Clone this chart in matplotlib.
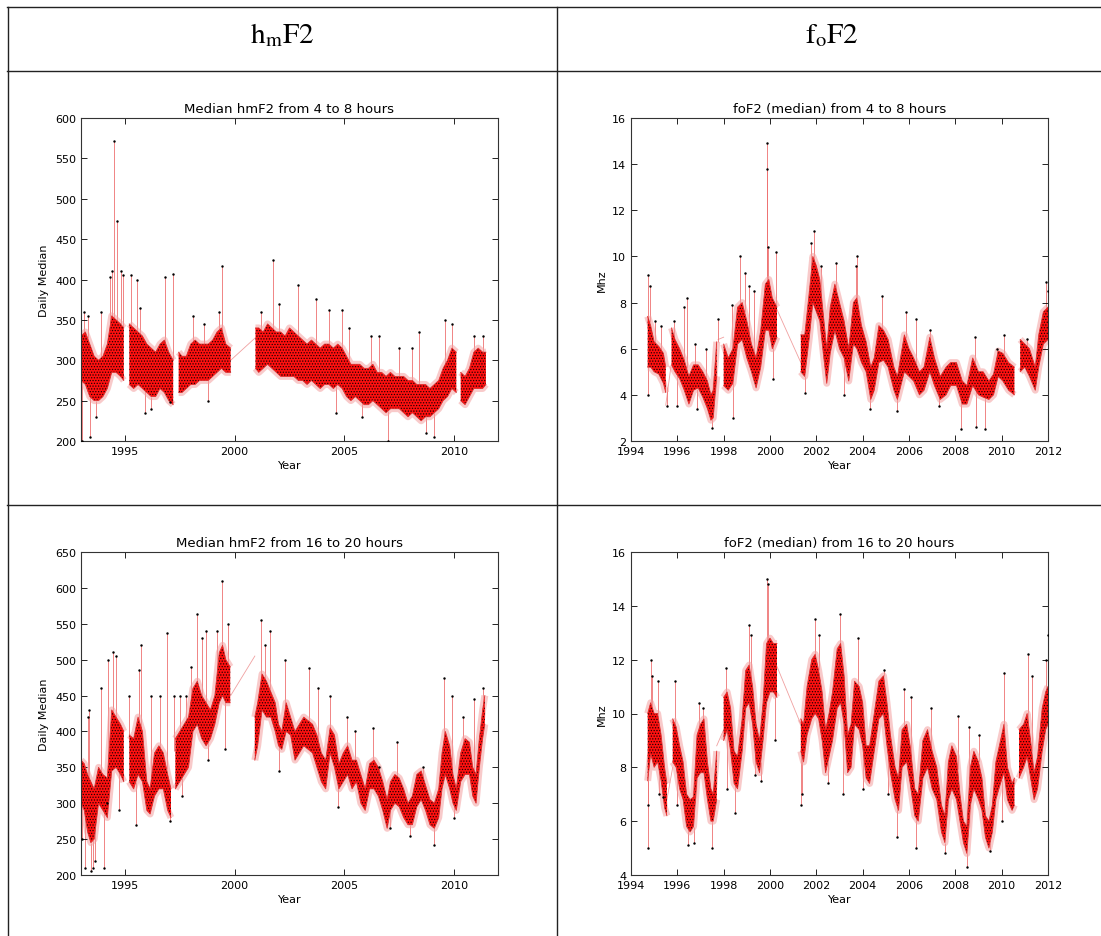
import numpy as np
import matplotlib.pyplot as plt
from matplotlib.lines import Line2D

plt.rcParams['mathtext.fontset'] = 'stix'
plt.rcParams['hatch.linewidth'] = 0.6
nan = np.nan

# ---- hmF2 4-8 h (core band of daily medians, km) ----
hm_am_t = [1993.0, 1993.2, 1993.4, 1993.6, 1993.8, 1994.0, 1994.2, 1994.4, 1994.6, 1994.8, 1994.95, 1995.08,
           1995.2, 1995.4, 1995.6, 1995.8, 1996.0, 1996.2, 1996.4, 1996.6, 1996.8, 1997.0, 1997.2, 1997.38,
           1997.45, 1997.6, 1997.8, 1998.0, 1998.2, 1998.4, 1998.6, 1998.8, 1999.0, 1999.2, 1999.4, 1999.6,
           1999.82, 2000.4, 2000.95, 2001.1, 2001.3, 2001.5, 2001.7, 2001.9, 2002.1, 2002.3, 2002.5, 2002.7,
           2002.9, 2003.1, 2003.3, 2003.5, 2003.7, 2003.9, 2004.1, 2004.3, 2004.5, 2004.7, 2004.9, 2005.1,
           2005.3, 2005.5, 2005.7, 2005.9, 2006.1, 2006.3, 2006.5, 2006.7, 2006.9, 2007.1, 2007.3, 2007.5,
           2007.7, 2007.9, 2008.1, 2008.3, 2008.5, 2008.7, 2008.9, 2009.1, 2009.3, 2009.5, 2009.7, 2009.9,
           2010.1, 2010.22, 2010.3, 2010.5, 2010.7, 2010.9, 2011.1, 2011.3, 2011.45]
hm_am_lo = [275, 270, 255, 250, 250, 255, 265, 285, 285, 280, 275, nan,
            270, 265, 270, 265, 260, 255, 255, 265, 260, 250, 245, nan,
            260, 260, 265, 270, 270, 275, 275, 275, 280, 285, 290, 285,
            285, nan, 290, 285, 290, 295, 290, 285, 280, 280, 280, 280,
            275, 275, 270, 275, 270, 265, 270, 270, 265, 270, 265, 255,
            250, 255, 250, 245, 245, 250, 245, 240, 235, 240, 240, 240,
            235, 230, 235, 230, 225, 230, 230, 235, 240, 250, 255, 265,
            260, nan, 250, 245, 255, 265, 265, 265, 270]
hm_am_hi = [330, 335, 320, 305, 300, 305, 320, 355, 350, 345, 340, nan,
            345, 340, 335, 330, 320, 315, 310, 320, 325, 310, 300, nan,
            310, 305, 305, 320, 325, 320, 320, 320, 325, 335, 340, 320,
            315, nan, 340, 340, 335, 345, 340, 335, 335, 330, 340, 335,
            330, 325, 320, 325, 320, 315, 320, 320, 315, 320, 315, 305,
            295, 295, 295, 290, 290, 295, 285, 285, 280, 285, 280, 280,
            280, 275, 275, 270, 270, 270, 265, 270, 275, 290, 300, 315,
            310, nan, 285, 280, 290, 310, 315, 310, 310]
hm_am_spike_t = [1993.05, 1993.15, 1993.3, 1993.4, 1993.7, 1993.9, 1994.3, 1994.4, 1994.51, 1994.66, 1994.8,
                 1994.9, 1995.3, 1995.55, 1995.7, 1995.9, 1996.2, 1996.85, 1997.05, 1997.2, 1998.1, 1998.6,
                 1998.8, 1999.3, 1999.42, 2001.2, 2001.75, 2002.0, 2002.9, 2003.7, 2004.3, 2004.6, 2004.9,
                 2005.2, 2005.8, 2006.2, 2006.6, 2007.0, 2007.5, 2008.1, 2008.4, 2008.7, 2009.1, 2009.6,
                 2009.9, 2010.9, 2011.3]
hm_am_spike_v = [200, 360, 355, 205, 230, 360, 403, 410, 571, 473, 410,
                 405, 405, 400, 365, 235, 240, 403, 248, 407, 355, 345,
                 250, 360, 417, 360, 424, 370, 393, 376, 362, 235, 362,
                 340, 230, 330, 330, 200, 315, 315, 335, 210, 205, 350,
                 345, 330, 330]
hm_am_bridge = [[1999.82, 2000.95], [300, 328]]

# ---- foF2 4-8 h (MHz) ----
fo_am_t = [1994.72, 1994.85, 1995.0, 1995.2, 1995.4, 1995.5, 1995.62, 1995.75, 1995.9, 1996.1, 1996.3, 1996.5,
           1996.7, 1996.9, 1997.1, 1997.3, 1997.45, 1997.55, 1997.7, 1997.85, 1998.0, 1998.2, 1998.4, 1998.6,
           1998.8, 1999.0, 1999.2, 1999.4, 1999.6, 1999.8, 1999.95, 2000.1, 2000.3, 2000.8, 2001.33, 2001.5,
           2001.7, 2001.85, 2002.0, 2002.15, 2002.3, 2002.45, 2002.6, 2002.8, 2003.0, 2003.2, 2003.4, 2003.6,
           2003.75, 2003.95, 2004.15, 2004.35, 2004.5, 2004.7, 2004.9, 2005.1, 2005.35, 2005.5, 2005.8, 2006.0,
           2006.2, 2006.45, 2006.65, 2006.9, 2007.1, 2007.35, 2007.6, 2007.8, 2008.05, 2008.3, 2008.5, 2008.75,
           2009.0, 2009.2, 2009.45, 2009.65, 2009.85, 2010.05, 2010.3, 2010.55, 2010.68, 2010.8, 2011.0, 2011.2,
           2011.45, 2011.6, 2011.8, 2012.0]
fo_am_lo = [5.2, 5.2, 5.0, 4.9, 4.5, 4.1, nan, 5.3, 5.0, 4.7, 4.2, 3.6,
            4.2, 4.3, 3.9, 3.4, 2.9, 3.0, 4.8, nan, 4.4, 4.2, 4.5, 6.2,
            6.4, 5.6, 5.0, 4.3, 5.2, 6.8, 6.8, 6.0, 6.5, nan, 5.0, 4.8,
            6.5, 8.0, 7.6, 7.2, 5.8, 4.5, 5.8, 6.8, 6.0, 5.6, 4.6, 6.2,
            6.0, 5.4, 5.0, 3.8, 4.2, 5.4, 5.5, 5.2, 4.2, 3.8, 5.0, 4.8,
            4.6, 4.0, 4.2, 5.0, 4.4, 3.8, 4.0, 4.4, 4.4, 3.6, 3.6, 4.4,
            4.0, 3.9, 3.8, 4.0, 4.8, 4.6, 4.2, 4.0, nan, 5.0, 5.2, 4.8,
            4.2, 5.2, 6.2, 6.4]
fo_am_hi = [7.4, 7.0, 6.3, 6.1, 5.8, 5.2, nan, 6.9, 6.4, 6.0, 5.5, 4.8,
            5.3, 5.3, 5.0, 4.6, 4.0, 4.2, 6.3, nan, 6.2, 5.6, 6.0, 7.8,
            8.0, 7.2, 6.2, 5.6, 6.8, 8.8, 9.0, 8.2, 7.8, nan, 6.6, 6.6,
            8.5, 10.0, 9.6, 9.0, 7.5, 6.0, 7.8, 8.8, 8.0, 7.2, 6.0, 8.0,
            8.2, 7.0, 6.3, 5.2, 5.6, 7.0, 6.8, 6.4, 5.2, 4.8, 6.6, 6.0,
            5.6, 5.0, 5.2, 6.5, 5.6, 4.8, 5.2, 5.4, 5.4, 4.6, 4.4, 5.6,
            5.0, 5.0, 4.6, 4.9, 5.9, 5.8, 5.4, 5.2, nan, 6.4, 6.2, 6.0,
            5.2, 6.6, 7.6, 7.8]
fo_am_spike_t = [1994.72, 1994.75, 1994.8, 1995.05, 1995.3, 1995.55, 1995.85, 1996.0, 1996.3, 1996.4, 1996.75,
                 1996.85, 1997.25, 1997.5, 1997.75, 1998.35, 1998.4, 1998.7, 1998.9, 1999.1, 1999.3, 1999.87,
                 1999.89, 1999.9, 2000.15, 2000.25, 2001.5, 2001.75, 2001.9, 2002.2, 2002.85, 2003.2, 2003.7,
                 2003.75, 2004.3, 2004.85, 2005.5, 2005.85, 2006.3, 2006.9, 2007.3, 2008.25, 2008.85, 2008.9,
                 2009.3, 2009.8, 2010.1, 2011.1, 2011.9, 2012.0]
fo_am_spike_v = [4.0, 9.2, 8.7, 7.2, 7.0, 3.5, 7.2, 3.5, 7.8, 8.2, 6.2,
                 3.4, 6.0, 2.55, 7.3, 7.9, 3.0, 10.0, 9.3, 8.7, 8.5, 14.9,
                 13.8, 10.4, 4.7, 10.2, 4.1, 10.6, 11.1, 9.6, 9.7, 4.0, 9.6,
                 10.0, 3.4, 8.3, 3.3, 7.6, 7.3, 6.8, 3.5, 2.5, 6.5, 2.6,
                 2.5, 6.0, 6.6, 6.4, 8.9, 8.5]
fo_am_bridge = [[1995.5, 1995.72, nan, 1997.76, 1998.0, nan, 2000.3, 2001.33],
                [3.55, 5.2, nan, 6.4, 6.5, nan, 7.7, 5.4]]

# ---- hmF2 16-20 h ----
hm_pm_t = [1993.0, 1993.15, 1993.3, 1993.45, 1993.6, 1993.8, 1994.0, 1994.2, 1994.4, 1994.6, 1994.8, 1994.95,
           1995.08, 1995.2, 1995.4, 1995.6, 1995.8, 1996.0, 1996.15, 1996.35, 1996.55, 1996.75, 1996.95, 1997.1,
           1997.2, 1997.3, 1997.5, 1997.7, 1997.9, 1998.1, 1998.3, 1998.5, 1998.7, 1998.9, 1999.1, 1999.3,
           1999.45, 1999.6, 1999.8, 2000.4, 2000.92, 2001.05, 2001.25, 2001.45, 2001.65, 2001.85, 2002.0, 2002.15,
           2002.35, 2002.55, 2002.75, 2002.95, 2003.15, 2003.35, 2003.55, 2003.75, 2003.95, 2004.15, 2004.35,
           2004.55, 2004.75, 2004.95, 2005.15, 2005.35, 2005.55, 2005.75, 2005.95, 2006.15, 2006.35, 2006.55,
           2006.75, 2006.95, 2007.1, 2007.3, 2007.5, 2007.7, 2007.9, 2008.1, 2008.3, 2008.5, 2008.7, 2008.9,
           2009.1, 2009.3, 2009.45, 2009.6, 2009.8, 2009.95, 2010.1, 2010.3, 2010.5, 2010.7, 2010.85, 2011.0,
           2011.15, 2011.3, 2011.4]
hm_pm_lo = [300, 290, 260, 245, 250, 300, 290, 280, 345, 350, 340, 330,
            nan, 330, 320, 340, 330, 290, 285, 310, 320, 320, 290, 280,
            nan, 320, 330, 340, 350, 400, 410, 390, 380, 390, 410, 440,
            450, 440, 440, nan, 360, 380, 430, 420, 420, 400, 380, 375,
            400, 395, 360, 370, 380, 375, 370, 350, 330, 320, 370,
            350, 320, 330, 340, 320, 330, 300, 290, 320, 320, 310,
            290, 265, 290, 300, 295, 280, 270, 270, 295, 305, 290, 270,
            265, 280, 320, 340, 320, 300, 290, 330, 340, 340, 310, 300,
            350, 390, 410]
hm_pm_hi = [360, 355, 340, 330, 320, 350, 340, 335, 430, 420, 410, 400,
            nan, 395, 390, 420, 400, 330, 320, 370, 380, 370, 340, 320,
            nan, 390, 400, 410, 420, 460, 470, 450, 440, 430, 450, 510,
            520, 500, 490, nan, 420, 440, 480, 470, 455, 440, 410, 400,
            440, 420, 400, 410, 420, 415, 410, 395, 370, 360, 405,
            395, 355, 370, 380, 360, 360, 340, 320, 355, 360, 350,
            330, 305, 330, 340, 335, 320, 300, 310, 340, 345, 325, 305,
            300, 320, 370, 400, 380, 340, 320, 370, 390, 385, 350, 340,
            390, 430, 450]
hm_pm_spike_t = [1993.05, 1993.2, 1993.3, 1993.35, 1993.45, 1993.55, 1993.65, 1993.9, 1994.05, 1994.2, 1994.25,
                 1994.45, 1994.6, 1994.75, 1995.2, 1995.5, 1995.65, 1995.75, 1996.2, 1996.6, 1996.9, 1997.05,
                 1997.25, 1997.5, 1997.6, 1997.8, 1998.0, 1998.3, 1998.5, 1998.7, 1998.8, 1999.2, 1999.42,
                 1999.55, 1999.7, 2001.2, 2001.4, 2001.6, 2002.0, 2002.3, 2003.4, 2003.8, 2004.35, 2004.7,
                 2005.1, 2005.5, 2006.3, 2006.6, 2007.1, 2007.4, 2008.0, 2008.6, 2009.1, 2009.55, 2009.9,
                 2010.0, 2010.4, 2010.9, 2011.3]
hm_pm_spike_v = [250, 210, 420, 430, 205, 210, 220, 460, 210, 300, 500,
                 510, 505, 290, 450, 270, 485, 520, 450, 450, 537, 275,
                 450, 450, 310, 450, 490, 563, 530, 540, 360, 540, 610,
                 375, 550, 555, 520, 540, 345, 500, 488, 460, 450, 295,
                 420, 400, 405, 350, 265, 385, 255, 350, 242, 475, 450,
                 280, 420, 445, 460]
hm_pm_bridge = [[1999.82, 2000.92], [450, 505]]

# ---- foF2 16-20 h ----
fo_pm_t = [1994.72, 1994.85, 1995.0, 1995.15, 1995.3, 1995.45, 1995.55, 1995.68, 1995.8, 1995.95, 1996.1, 1996.25,
           1996.4, 1996.55, 1996.7, 1996.85, 1997.0, 1997.15, 1997.3, 1997.45, 1997.55, 1997.7, 1997.85, 1998.0,
           1998.15, 1998.3, 1998.45, 1998.6, 1998.8, 1998.95, 1999.1, 1999.25, 1999.4, 1999.55, 1999.7, 1999.85,
           2000.0, 2000.15, 2000.3, 2000.8, 2001.33, 2001.45, 2001.6, 2001.8, 2001.95, 2002.1, 2002.25, 2002.4,
           2002.55, 2002.7, 2002.9, 2003.05, 2003.2, 2003.35, 2003.5, 2003.65, 2003.85, 2004.0, 2004.15, 2004.3,
           2004.5, 2004.7, 2004.9, 2005.05, 2005.2, 2005.4, 2005.55, 2005.7, 2005.9, 2006.05, 2006.25, 2006.4,
           2006.6, 2006.8, 2007.0, 2007.2, 2007.4, 2007.55, 2007.7, 2007.85, 2008.05, 2008.2, 2008.35, 2008.5,
           2008.65, 2008.8, 2009.0, 2009.15, 2009.3, 2009.45, 2009.6, 2009.75, 2009.95, 2010.1, 2010.25, 2010.45,
           2010.55, 2010.65, 2010.75, 2010.95, 2011.1, 2011.25, 2011.4, 2011.55, 2011.75, 2011.9, 2012.0]
fo_pm_lo = [7.5, 8.5, 8.0, 8.2, 7.5, 6.5, 6.2, nan, 8.2, 8.0, 7.2, 6.8,
            5.8, 5.6, 5.8, 7.6, 7.8, 7.8, 6.8, 6.0, 6.0, 6.8, nan, 9.0,
            9.4, 8.6, 7.4, 7.2, 8.6, 10.2, 10.4, 9.6, 8.2, 7.8, 9.0, 10.4,
            10.8, 10.8, 10.6, nan, 8.6, 8.2, 9.2, 9.8, 10.0, 9.8, 9.0, 7.8,
            8.4, 9.0, 10.2, 10.4, 9.6, 7.8, 8.0, 9.6, 9.4, 8.8, 7.6, 7.4,
            8.6, 9.8, 10.0, 8.8, 7.8, 6.8, 6.4, 8.0, 8.2, 7.4, 6.2, 6.0,
            7.6, 8.0, 7.2, 6.8, 5.6, 5.2, 6.8, 7.2, 6.8, 6.0, 5.2, 4.8,
            6.6, 7.2, 6.8, 6.4, 5.4, 5.0, 5.6, 6.8, 7.4, 7.8, 6.8, 6.4,
            6.6, nan, 7.6, 8.0, 8.4, 7.6, 6.8, 7.2, 8.6, 9.4, 9.6]
fo_pm_hi = [10.0, 10.4, 10.0, 10.0, 9.2, 8.0, 7.4, nan, 9.8, 9.5, 8.8, 8.2,
            7.0, 6.8, 6.9, 9.2, 9.6, 9.8, 8.2, 7.2, 7.0, 8.6, nan, 10.6,
            10.8, 10.2, 8.6, 8.4, 9.8, 11.6, 11.8, 11.0, 9.6, 9.0, 10.4, 12.6,
            12.8, 12.6, 12.6, nan, 9.8, 9.6, 11.0, 12.0, 12.2, 11.6, 10.8, 9.4,
            10.0, 10.8, 12.4, 12.6, 11.4, 9.2, 9.6, 11.2, 11.0, 10.4, 8.8, 8.8,
            10.0, 11.2, 11.4, 10.4, 9.2, 8.0, 7.6, 9.4, 9.6, 8.8, 7.2, 7.0,
            9.0, 9.4, 8.6, 8.0, 6.6, 6.2, 8.2, 8.8, 8.4, 7.0, 6.0, 5.8,
            8.0, 8.6, 8.2, 7.6, 6.2, 6.0, 6.6, 8.2, 9.0, 9.6, 8.0, 7.4,
            7.6, nan, 9.4, 9.6, 10.0, 9.0, 7.8, 8.4, 10.2, 10.8, 11.0]
fo_pm_spike_t = [1994.72, 1994.75, 1994.85, 1994.9, 1995.15, 1995.2, 1995.4, 1995.9, 1996.0, 1996.45, 1996.7,
                 1996.95, 1997.1, 1997.5, 1998.1, 1998.15, 1998.5, 1999.1, 1999.2, 1999.35, 1999.6, 1999.88,
                 1999.9, 2000.2, 2001.35, 2001.4, 2001.95, 2002.1, 2002.5, 2003.0, 2003.15, 2003.8, 2004.0,
                 2004.9, 2005.1, 2005.5, 2005.8, 2006.1, 2006.3, 2006.95, 2007.55, 2008.1, 2008.5, 2008.6,
                 2009.0, 2009.5, 2010.0, 2010.1, 2011.15, 2011.3, 2011.9, 2012.0]
fo_pm_spike_v = [5.0, 6.6, 12.0, 11.4, 11.2, 7.0, 6.9, 11.2, 6.6, 5.1, 5.2,
                 10.4, 10.2, 5.0, 11.7, 7.2, 6.3, 13.3, 12.9, 7.7, 7.5, 15.0,
                 14.8, 9.0, 6.6, 7.0, 13.5, 12.9, 7.4, 13.7, 7.0, 12.8, 7.2,
                 11.6, 7.0, 5.4, 10.9, 10.6, 5.0, 10.2, 4.8, 9.9, 4.3, 9.5,
                 9.2, 4.9, 6.0, 11.5, 12.2, 11.4, 12.0, 12.9]
fo_pm_bridge = [[1995.55, 1995.8, nan, 1997.7, 1998.0, nan, 2000.3, 2001.33],
                [6.8, 8.0, nan, 8.8, 9.4, nan, 11.75, 9.6]]

W, H = 1101, 937
fig = plt.figure(figsize=(W / 100, H / 100), dpi=100)


def px_axes(x0, y0, x1, y1):
    return fig.add_axes([x0 / W, 1 - y1 / H, (x1 - x0) / W, (y1 - y0) / H])


def draw(ax, t, lo, hi, spk_t, spk_v, bridge):
    t = np.array(t, float)
    lo = np.array(lo, float)
    hi = np.array(hi, float)
    ok = ~np.isnan(lo)
    ax.plot(bridge[0], bridge[1], color='#f0a0a0', lw=0.6, zorder=1)
    st = np.array(spk_t, float)
    sv = np.array(spk_v, float)
    top = np.interp(st, t[ok], hi[ok])
    bot = np.interp(st, t[ok], lo[ok])
    base = np.where(sv > top, top, bot)
    ax.vlines(st, base, sv, color='#ee7070', lw=0.6, zorder=1)
    ax.plot(st, sv, 'k.', ms=1.5, zorder=3)
    # soft pink fringe around the dense core
    ax.plot(t, lo, color='#f4a0a0', lw=5, alpha=0.55, zorder=1.5, solid_capstyle='butt')
    ax.plot(t, hi, color='#f4a0a0', lw=5, alpha=0.55, zorder=1.5, solid_capstyle='butt')
    ax.fill_between(t, lo, hi, facecolor='#ff1010', edgecolor='#200000',
                    hatch='......', linewidth=0, zorder=2)
    ax.plot(t, lo, color='#e03030', lw=0.6, zorder=2)
    ax.plot(t, hi, color='#e03030', lw=0.6, zorder=2)


def style(ax, title, ylabel, xticks, ylim, yticks):
    ax.set_ylim(*ylim)
    ax.set_xticks(xticks)
    ax.set_yticks(yticks)
    ax.tick_params(direction='in', top=True, right=True, labelsize=8, length=4, width=0.6)
    ax.set_title(title, fontsize=9.5, pad=4)
    ax.set_xlabel('Year', fontsize=8, labelpad=3)
    ax.set_ylabel(ylabel, fontsize=8, labelpad=4)
    for s in ax.spines.values():
        s.set_linewidth(0.8)
        s.set_color('#333333')


ax1 = px_axes(81, 119, 498, 442)
draw(ax1, hm_am_t, hm_am_lo, hm_am_hi, hm_am_spike_t, hm_am_spike_v, hm_am_bridge)
style(ax1, 'Median hmF2 from 4 to 8 hours', 'Daily Median', [1995, 2000, 2005, 2010],
      (200, 600), range(200, 601, 50))
ax1.set_xlim(1993, 2012)

ax2 = px_axes(631, 119, 1048, 442)
draw(ax2, fo_am_t, fo_am_lo, fo_am_hi, fo_am_spike_t, fo_am_spike_v, fo_am_bridge)
style(ax2, 'foF2 (median) from 4 to 8 hours', 'Mhz', list(range(1994, 2013, 2)),
      (2, 16), range(2, 17, 2))
ax2.set_xlim(1994, 2012)

ax3 = px_axes(81, 553, 498, 876)
draw(ax3, hm_pm_t, hm_pm_lo, hm_pm_hi, hm_pm_spike_t, hm_pm_spike_v, hm_pm_bridge)
style(ax3, 'Median hmF2 from 16 to 20 hours', 'Daily Median', [1995, 2000, 2005, 2010],
      (200, 650), range(200, 651, 50))
ax3.set_xlim(1993, 2012)

ax4 = px_axes(631, 553, 1048, 876)
draw(ax4, fo_pm_t, fo_pm_lo, fo_pm_hi, fo_pm_spike_t, fo_pm_spike_v, fo_pm_bridge)
style(ax4, 'foF2 (median) from 16 to 20 hours', 'Mhz', list(range(1994, 2013, 2)),
      (4, 16), range(4, 17, 2))
ax4.set_xlim(1994, 2012)

# table grid around the panels
lc = '#222222'
for y in (7.5, 71.5, 505.5):
    fig.add_artist(Line2D([7 / W, 1], [1 - y / H, 1 - y / H], color=lc, lw=1))
for x in (7.5, 556.5):
    fig.add_artist(Line2D([x / W, x / W], [0, 1 - 7.5 / H], color=lc, lw=1))

fig.text(282 / W, 1 - 35 / H, r'$\mathrm{h_mF2}$', fontsize=21, ha='center', va='center')
fig.text(832 / W, 1 - 35 / H, r'$\mathrm{f_oF2}$', fontsize=21, ha='center', va='center')

fig.savefig('out.png', dpi=100)
